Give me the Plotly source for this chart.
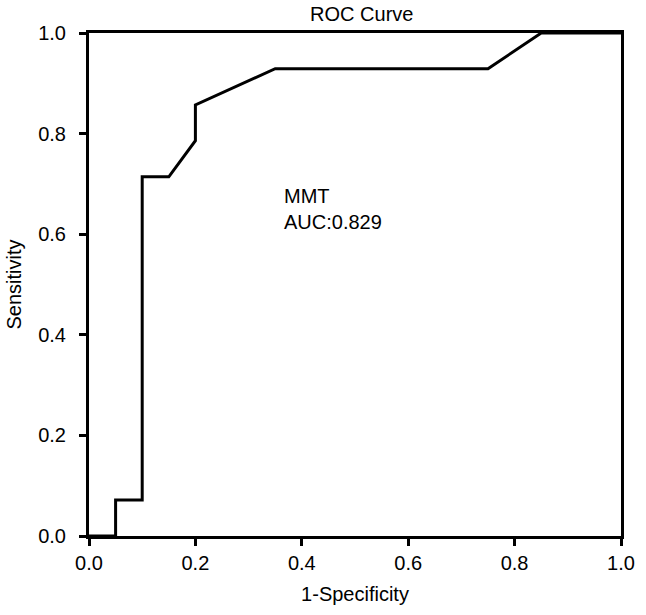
import plotly.graph_objects as go

fpr = [0.0, 0.05, 0.05, 0.10, 0.10, 0.15, 0.20, 0.20, 0.35, 0.75, 0.85, 1.0]
tpr = [0.0, 0.0, 0.0714, 0.0714, 0.714, 0.714, 0.786, 0.857, 0.929, 0.929, 1.0, 1.0]
tick_vals = [0.0, 0.2, 0.4, 0.6, 0.8, 1.0]
tick_text = ["0.0", "0.2", "0.4", "0.6", "0.8", "1.0"]

font = "Liberation Sans, Arial, Helvetica, sans-serif"
fs = 20

fig = go.Figure()
fig.add_trace(go.Scatter(x=fpr, y=tpr, mode="lines",
                         line=dict(color="black", width=3), showlegend=False,
                         cliponaxis=False))

fig.add_annotation(x=0.363, y=0.702, xref="x", yref="y", text="MMT<br>AUC:0.829",
                   showarrow=False, xanchor="left", yanchor="top", align="left",
                   font=dict(family=font, size=fs, color="black"))

axis_common = dict(range=[0, 1], tickvals=tick_vals, ticktext=tick_text,
                   showgrid=False, zeroline=False, showline=True, linecolor="black",
                   linewidth=3, mirror=True, ticks="outside", ticklen=7, tickwidth=3,
                   tickcolor="black", tickfont=dict(family=font, size=fs, color="black"),
                   fixedrange=True, automargin=False)

fig.update_layout(
    width=646, height=615,
    paper_bgcolor="white", plot_bgcolor="white",
    margin=dict(l=89, r=25, t=33, b=79),
    title=dict(text="ROC Curve", x=0.560, xanchor="center", y=0.977, yanchor="middle",
               font=dict(family=font, size=fs, color="black")),
    xaxis=dict(**axis_common, title=dict(text="1-Specificity", standoff=14,
                                         font=dict(family=font, size=fs, color="black"))),
    yaxis=dict(**axis_common, ticklabelstandoff=9,
               title=dict(text="Sensitivity", standoff=12,
                          font=dict(family=font, size=fs, color="black"))),
)

fig.write_html("out.html", config={"displayModeBar": False},
               post_script="document.body.style.margin='0';document.body.style.padding='0';")
